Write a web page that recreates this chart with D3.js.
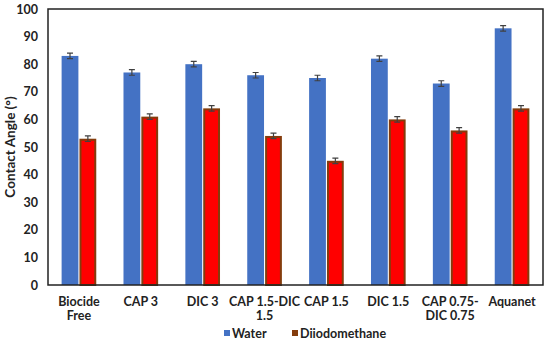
<!DOCTYPE html>
<html>
<head>
<meta charset="utf-8">
<script src="https://cdn.jsdelivr.net/npm/d3@7"></script>
<style>
  body { margin: 0; background: #fff; }
  text { font-family: Lato, "Open Sans", sans-serif; font-weight: bold; fill: #222; }
</style>
</head>
<body>
<svg id="chart" width="550" height="342"></svg>
<script>
const categories = [
  ['Biocide', 'Free'],
  ['CAP 3'],
  ['DIC 3'],
  ['CAP 1.5-DIC', '1.5'],
  ['CAP 1.5'],
  ['DIC 1.5'],
  ['CAP 0.75-', 'DIC 0.75'],
  ['Aquanet'],
];
const waterValues = [83, 77, 80, 76, 75, 82, 73, 93];
const waterErrors = [1, 1, 1, 1, 1, 1, 1, 1];
const diioValues = [53, 61, 64, 54, 45, 60, 56, 64];
const diioErrors = [1, 1, 1, 1, 1, 1, 1, 1];
const yTicks = [0, 10, 20, 30, 40, 50, 60, 70, 80, 90, 100];

const series = [
  { name: 'Water', values: waterValues, errors: waterErrors, fill: '#4472C4', stroke: 'none' },
  { name: 'Diiodomethane', values: diioValues, errors: diioErrors, fill: '#FF0000', stroke: '#843C0C' },
];

const margin = { top: 9, right: 7, bottom: 57, left: 48 };
const width = 550 - margin.left - margin.right;
const height = 342 - margin.top - margin.bottom;

const svg = d3.select('#chart');
const g = svg.append('g').attr('transform', `translate(${margin.left},${margin.top})`);

const x = d3.scaleBand()
  .domain(d3.range(categories.length))
  .range([0, width])
  .paddingInner(0.44)
  .paddingOuter(0.22);
const xs = d3.scaleBand()
  .domain(series.map((s) => s.name))
  .range([0, x.bandwidth()])
  .paddingInner(0.06);
const y = d3.scaleLinear().domain([0, 100]).range([height, 0]);

// y axis labels
const yAxis = g.append('g')
  .call(d3.axisLeft(y).tickValues(yTicks).tickSize(0).tickPadding(10));
yAxis.select('.domain').remove();
yAxis.selectAll('text').style('font-size', '12.5px').attr('fill', '#222');

// bars
series.forEach((s) => {
  const inset = s.stroke === 'none' ? 0 : 1;
  const grp = g.append('g');
  grp.selectAll('rect')
    .data(s.values)
    .join('rect')
    .attr('x', (d, i) => x(i) + xs(s.name) + inset)
    .attr('y', (d) => y(d) + inset)
    .attr('width', xs.bandwidth() - 2 * inset)
    .attr('height', (d) => height - y(d) - inset)
    .attr('fill', s.fill)
    .attr('stroke', s.stroke)
    .attr('stroke-width', 2);

  // error bars
  const cx = (i) => x(i) + xs(s.name) + xs.bandwidth() / 2;
  grp.selectAll('path.err')
    .data(s.values)
    .join('path')
    .attr('class', 'err')
    .attr('d', (d, i) => {
      const t = y(d + s.errors[i]);
      const b = y(d - s.errors[i]);
      const c = cx(i);
      return `M${c - 3},${t}H${c + 3}M${c},${t}V${b}M${c - 3},${b}H${c + 3}`;
    })
    .attr('stroke', '#404040')
    .attr('stroke-width', 1.2)
    .attr('fill', 'none');
});

// frame
g.append('rect')
  .attr('width', width)
  .attr('height', height)
  .attr('fill', 'none')
  .attr('stroke', '#222')
  .attr('stroke-width', 1.5);

// x labels
const xl = g.append('g').attr('transform', `translate(0,${height})`);
categories.forEach((lines, i) => {
  const t = xl.append('text')
    .attr('x', x(i) + x.bandwidth() / 2)
    .attr('y', 21)
    .attr('text-anchor', 'middle')
    .style('font-size', '12.5px');
  lines.forEach((ln, j) => {
    t.append('tspan')
      .attr('x', x(i) + x.bandwidth() / 2)
      .attr('dy', j === 0 ? 0 : 14)
      .text(ln);
  });
});

// y title
svg.append('text')
  .attr('transform', `translate(15,${margin.top + height / 2}) rotate(-90)`)
  .attr('text-anchor', 'middle')
  .style('font-size', '13.5px')
  .text('Contact Angle (°)');

// legend
const legend = svg.append('g').attr('transform', 'translate(224,338)');
const legendItems = [
  { name: 'Water', color: '#4472C4', x: 0 },
  { name: 'Diiodomethane', color: '#843C0C', x: 68 },
];
legendItems.forEach((it) => {
  legend.append('rect')
    .attr('x', it.x)
    .attr('y', -8)
    .attr('width', 6)
    .attr('height', 6)
    .attr('fill', it.color);
  legend.append('text')
    .attr('x', it.x + 8)
    .attr('y', 0)
    .style('font-size', '12.5px')
    .text(it.name);
});
</script>
</body>
</html>
